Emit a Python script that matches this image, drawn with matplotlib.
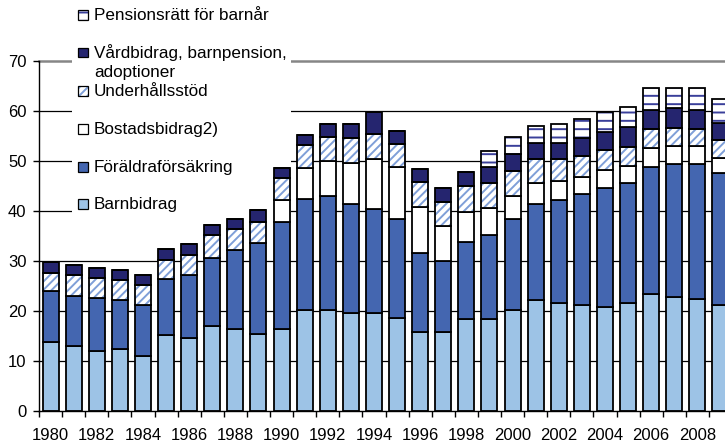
import matplotlib
matplotlib.use('Agg')
import numpy as np
import matplotlib.pyplot as plt
from matplotlib.patches import Rectangle

plt.rcParams['font.family'] = ['Liberation Sans', 'DejaVu Sans']
plt.rcParams['hatch.linewidth'] = 1.4

years = list(range(1980, 2010))
barnbidrag = [13.8, 12.9, 12.0, 12.3, 10.9, 15.1, 14.5, 17.0, 16.3, 15.4,
              16.3, 20.2, 20.2, 19.6, 19.5, 18.6, 15.7, 15.7, 18.3, 18.3,
              20.1, 22.1, 21.5, 21.2, 20.8, 21.5, 23.3, 22.7, 22.3, 21.2]
foraldra = [10.2, 10.1, 10.5, 9.8, 10.2, 11.2, 12.7, 13.6, 15.9, 18.1,
            21.4, 22.2, 22.8, 21.7, 20.9, 19.7, 15.9, 14.3, 15.5, 16.9,
            18.2, 19.3, 20.6, 22.1, 23.8, 24.1, 25.5, 26.7, 27.1, 26.3]
bostad = [0, 0, 0, 0, 0, 0, 0, 0, 0, 0,
          4.5, 6.1, 7.0, 8.3, 9.9, 10.5, 9.2, 7.0, 6.0, 5.3,
          4.7, 4.2, 3.8, 3.5, 3.6, 3.4, 3.8, 3.6, 3.6, 3.1]
underhall = [3.5, 4.1, 4.0, 4.1, 4.1, 3.9, 4.0, 4.5, 4.1, 4.3,
             4.3, 4.7, 4.8, 4.9, 5.0, 4.6, 4.9, 4.7, 5.1, 5.1,
             5.0, 4.7, 4.4, 4.2, 3.9, 3.8, 3.7, 3.6, 3.3, 3.5]
vardbidrag = [2.3, 2.0, 2.0, 2.0, 2.0, 2.1, 2.1, 2.0, 2.0, 2.4,
              2.0, 2.0, 2.6, 2.9, 4.5, 2.6, 2.7, 2.9, 2.9, 3.2,
              3.3, 3.2, 3.2, 3.6, 3.6, 4.0, 3.9, 3.9, 3.9, 3.5]
pension = [0, 0, 0, 0, 0, 0, 0, 0, 0, 0,
           0, 0, 0, 0, 0, 0, 0, 0, 0, 3.2,
           3.5, 3.5, 3.9, 3.8, 4.1, 4.0, 4.4, 4.1, 4.4, 4.8]

# bottom -> top: (values, face, hatch, hatch colour)
layers = [
    (barnbidrag, '#9DC3E6', None, None),
    (foraldra, '#4466B0', None, None),
    (bostad, 'white', None, None),
    (underhall, 'white', '////', '#7F9FD8'),
    (vardbidrag, '#25256F', None, None),
    (pension, 'white', '--', '#3A3F9A'),
]

# legend, top -> bottom
leg_labels = ['Pensionsrätt för barnår', 'Vårdbidrag, barnpension,\nadoptioner',
              'Underhållsstöd', 'Bostadsbidrag2)', 'Föräldraförsäkring', 'Barnbidrag']
leg_styles = [layers[5], layers[4], layers[3], layers[2], layers[1], layers[0]]

W, H = 725, 444
fig = plt.figure(figsize=(W / 100, H / 100), dpi=100)
ax = fig.add_axes([39 / W, 33.3 / H, 693 / W, 349.7 / H])

x = np.arange(len(years))
bottom = np.zeros(len(years))
for vals, face, hatch, hcol in layers:
    vals = np.array(vals, dtype=float)
    if hatch:
        ax.bar(x, vals, 0.69, bottom=bottom, color=face, hatch=hatch,
               edgecolor=hcol, linewidth=0, zorder=3)
        ax.bar(x, vals, 0.69, bottom=bottom, fill=False, edgecolor='black',
               linewidth=1.3, zorder=3.1)
    else:
        ax.bar(x, vals, 0.69, bottom=bottom, color=face, edgecolor='black',
               linewidth=1.3, zorder=3)
    bottom += vals

for yv in range(10, 70, 10):
    ax.axhline(yv, color='black', linewidth=0.9, zorder=1)
ax.axhline(70, color='#868686', linewidth=1.8, zorder=1, clip_on=False)

ax.set_xlim(-0.5, len(years) - 0.5)
ax.set_ylim(0, 70)
ax.set_yticks(range(0, 80, 10))
ax.set_xticks(x[::2])
ax.set_xticklabels([str(y) for y in years[::2]])
ax.set_xticks(np.arange(-0.5, len(years), 1), minor=True)
ax.tick_params(axis='y', length=4, width=1, pad=5, labelsize=12)
ax.tick_params(axis='x', which='major', length=0, pad=12.5, labelsize=12)
ax.tick_params(axis='x', which='minor', length=4, width=1, direction='out')
for s in ['top', 'right']:
    ax.spines[s].set_visible(False)
for s in ['left', 'bottom']:
    ax.spines[s].set_linewidth(1.0)
    ax.spines[s].set_zorder(4)

# legend background (covers grid but stays under the bars)
ax.add_patch(Rectangle((72 / W, 1 - 222 / H), 219 / W, 222 / H, transform=fig.transFigure,
                       facecolor='white', edgecolor='none', zorder=2, clip_on=False))

ys = [15, 52.5, 91, 129, 167, 204]
for lab, (vals, face, hatch, hcol), yc in zip(leg_labels, leg_styles, ys):
    sx, sy, sz = 78, yc - 4.8, 9.6
    r = Rectangle((sx / W, 1 - (sy + sz) / H), sz / W, sz / H, transform=fig.transFigure,
                  facecolor=face, edgecolor=hcol if hatch else 'none', hatch=hatch, linewidth=0)
    fig.patches.append(r)
    fig.patches.append(Rectangle((sx / W, 1 - (sy + sz) / H), sz / W, sz / H,
                                 transform=fig.transFigure, fill=False,
                                 edgecolor='black', linewidth=0.9))
    lines = lab.split('\n')
    for i, ln in enumerate(lines):
        fig.text(94 / W, 1 - (yc + 20.5 * i) / H, ln, fontsize=12.3,
                 ha='left', va='center')

fig.savefig('out.png', dpi=100)
